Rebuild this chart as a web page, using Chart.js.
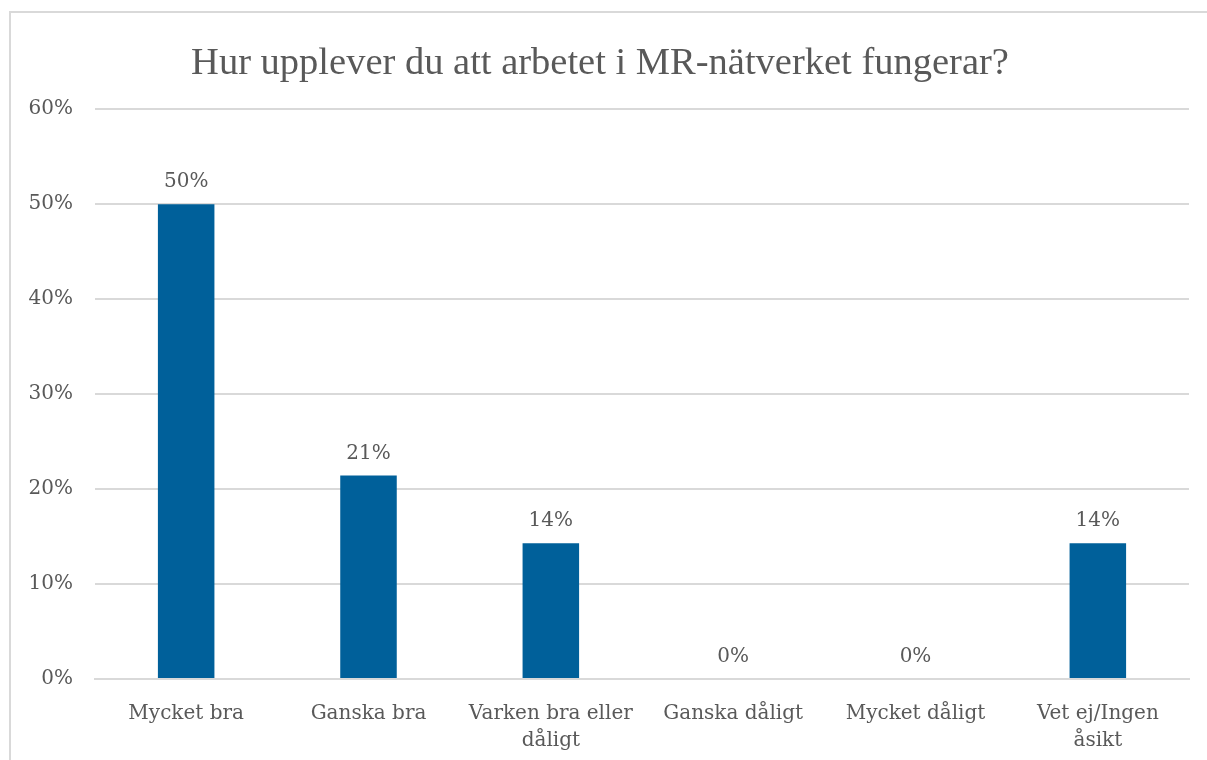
<!DOCTYPE html>
<html>
<head>
<meta charset="utf-8">
<script src="https://cdn.jsdelivr.net/npm/chart.js@4.4.1/dist/chart.umd.min.js"></script>
<style>
  html, body { margin: 0; padding: 0; background: #fff; }
  #wrap {
    position: absolute; left: 9px; top: 11px;
    width: 1210px; height: 760px;
    border: 2px solid #d9d9d9; box-sizing: border-box;
  }
  #chart { display: block; }
</style>
</head>
<body>
<div id="wrap"><canvas id="chart" width="1206" height="756"></canvas></div>
<script>
// Kategorier och andelar (%)
const categories = [
    'Mycket bra',
    'Ganska bra',
    ['Varken bra eller', 'dåligt'],
    'Ganska dåligt',
    'Mycket dåligt',
    ['Vet ej/Ingen', 'åsikt']
];
const shares = [50, 21.43, 14.29, 0, 0, 14.29];
const yTicks = [0, 10, 20, 30, 40, 50, 60];

const textColor = '#595959';
const labelFont = { family: 'DejaVu Serif', size: 20, lineHeight: 1.35 };

// Etiketter ovanför staplarna
const valueLabels = {
    id: 'valueLabels',
    afterDatasetsDraw(chart) {
        const ctx = chart.ctx;
        const meta = chart.getDatasetMeta(0);
        ctx.save();
        ctx.font = labelFont.size + 'px "' + labelFont.family + '"';
        ctx.fillStyle = textColor;
        ctx.textAlign = 'center';
        ctx.textBaseline = 'bottom';
        meta.data.forEach((bar, i) => {
            ctx.fillText(Math.round(shares[i]) + '%', bar.x, bar.y - 12);
        });
        ctx.restore();
    }
};

const ctx = document.getElementById('chart').getContext('2d');
window.myChart = new Chart(ctx, {
    type: 'bar',
    data: {
        labels: categories,
        datasets: [{
            data: shares,
            backgroundColor: '#00609a',
            barPercentage: 0.31,
            categoryPercentage: 1
        }]
    },
    options: {
        responsive: false,
        animation: false,
        layout: { padding: { left: 0, right: 28, top: 10, bottom: 2 } },
        plugins: {
            legend: { display: false },
            tooltip: { enabled: false },
            title: {
                display: true,
                text: 'Hur upplever du att arbetet i MR-nätverket fungerar?',
                color: textColor,
                font: { family: 'Liberation Serif', size: 38.5, weight: 'normal' },
                padding: { top: 18, bottom: 22 }
            }
        },
        scales: {
            x: {
                grid: { display: false },
                border: { color: '#d9d9d9', width: 2 },
                ticks: { color: textColor, font: labelFont, maxRotation: 0, padding: 13 }
            },
            y: {
                min: 0,
                max: 60,
                afterBuildTicks(axis) {
                    axis.ticks = yTicks.map(v => ({ value: v }));
                },
                afterFit(axis) {
                    axis.width = 84;
                },
                grid: { color: '#d9d9d9', lineWidth: 2, drawTicks: false },
                border: { display: false },
                ticks: {
                    color: textColor,
                    font: labelFont,
                    padding: 22,
                    callback: v => v + '%'
                }
            }
        }
    },
    plugins: [valueLabels]
});
</script>
</body>
</html>
